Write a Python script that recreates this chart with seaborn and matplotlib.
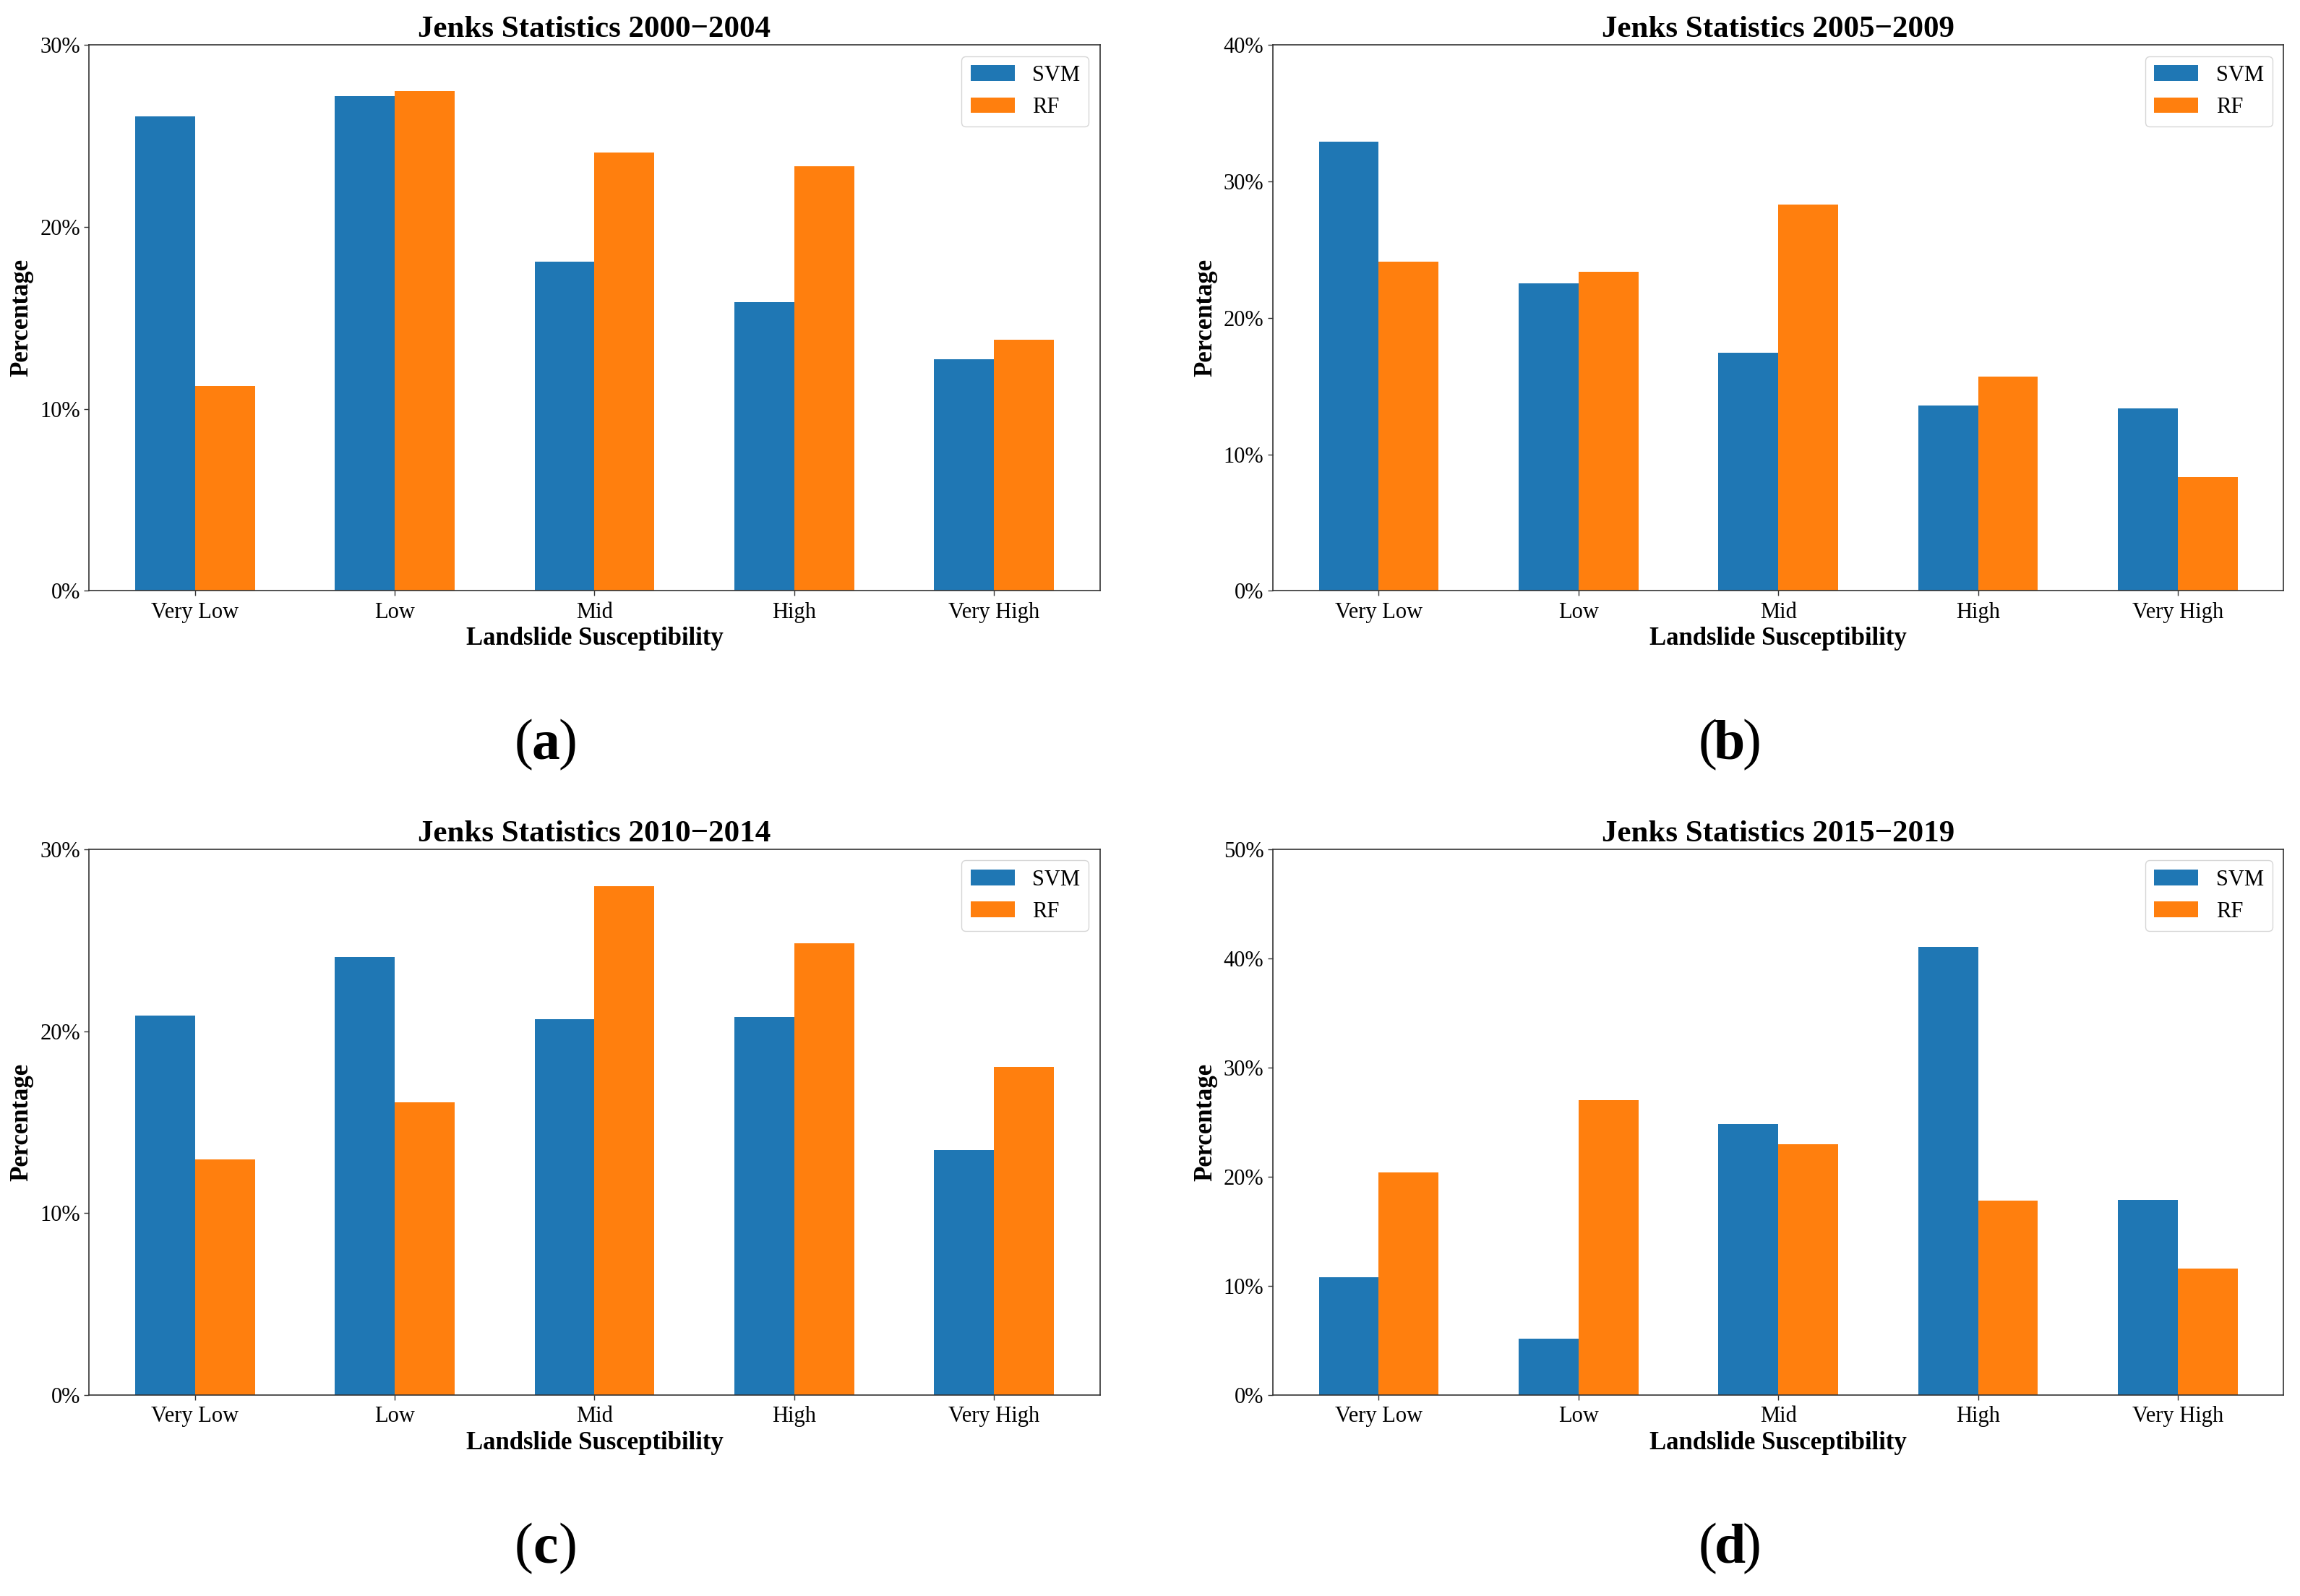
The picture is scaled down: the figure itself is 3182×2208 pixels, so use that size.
import matplotlib
matplotlib.use("Agg")
import matplotlib.pyplot as plt
from matplotlib.ticker import FuncFormatter
import seaborn as sns
import pandas as pd

# ---- data ----
levels = ["Very Low", "Low", "Mid", "High", "Very High"]
models = ["SVM", "RF"]

titles = ["Jenks Statistics 2000\u22122004", "Jenks Statistics 2005\u22122009",
          "Jenks Statistics 2010\u22122014", "Jenks Statistics 2015\u22122019"]
panel_letters = ["a", "b", "c", "d"]
y_max = [30, 40, 30, 50]

svm_2000 = [26.07, 27.21, 18.11, 15.88, 12.71]
rf_2000 = [11.26, 27.47, 24.09, 23.33, 13.80]
svm_2005 = [32.90, 22.55, 17.45, 13.59, 13.39]
rf_2005 = [24.14, 23.36, 28.33, 15.72, 8.35]
svm_2010 = [20.88, 24.07, 20.68, 20.79, 13.46]
rf_2010 = [12.96, 16.09, 27.99, 24.82, 18.02]
svm_2015 = [10.82, 5.18, 24.86, 41.09, 17.86]
rf_2015 = [20.43, 27.00, 22.95, 17.82, 11.57]

svm_all = [svm_2000, svm_2005, svm_2010, svm_2015]
rf_all = [rf_2000, rf_2005, rf_2010, rf_2015]

colors = ["#1f77b4", "#ff7f0e"]

sns.set_style("ticks")
plt.rcParams["font.family"] = ["Liberation Serif", "DejaVu Serif"]
plt.rcParams["text.color"] = "black"
plt.rcParams["axes.labelcolor"] = "black"
plt.rcParams["xtick.color"] = "black"
plt.rcParams["ytick.color"] = "black"

W, H = 3182, 2208
dpi = 100
fig = plt.figure(figsize=(W / dpi, H / dpi), dpi=dpi)

ax_w = 1398.4 / W
ax_h = 755.0 / H
lefts = [123.3 / W, 1761.0 / W, 123.3 / W, 1761.0 / W]
bottoms = [1 - 817.3 / H, 1 - 817.3 / H, 1 - 1930.0 / H, 1 - 1930.0 / H]
label_pos = [(755 / W, 1 - 1031 / H), (2393 / W, 1 - 1031 / H),
             (755 / W, 1 - 2143 / H), (2393 / W, 1 - 2143 / H)]

for i in range(4):
    ax = fig.add_axes([lefts[i], bottoms[i], ax_w, ax_h])
    df = pd.DataFrame({
        "level": levels * 2,
        "model": ["SVM"] * 5 + ["RF"] * 5,
        "value": svm_all[i] + rf_all[i],
    })
    sns.barplot(data=df, x="level", y="value", hue="model", order=levels,
                hue_order=models, palette=colors, saturation=1, width=0.6,
                errorbar=None, legend=False, ax=ax, linewidth=0)
    ax.set_xlim(-0.53, 4.53)
    ax.set_ylim(0, y_max[i])
    ax.set_yticks(list(range(0, y_max[i] + 1, 10)))
    ax.yaxis.set_major_formatter(FuncFormatter(lambda v, p: f"{int(round(v))}%"))
    ax.tick_params(axis="both", labelsize=22, length=5, width=1.0,
                   colors="#333333", labelcolor="black")
    ax.tick_params(axis="x", pad=6)
    ax.tick_params(axis="y", pad=4)
    for s in ax.spines.values():
        s.set_visible(True)
        s.set_color("#333333")
        s.set_linewidth(1.2)
    ax.set_xlabel("Landslide Susceptibility", fontsize=25, fontweight="bold", labelpad=4)
    ax.set_ylabel("Percentage", fontsize=25, fontweight="bold", labelpad=6)
    ax.set_title(titles[i], fontsize=31, fontweight="bold", pad=8)
    ax.legend(ax.containers, models, loc="upper right", fontsize=22,
              frameon=True, fancybox=True, framealpha=0.8, edgecolor="0.8")
    x0, y0 = label_pos[i]
    fig.text(x0 - 30 / W, y0, "(", fontsize=56, ha="center", va="center")
    fig.text(x0, y0, panel_letters[i], fontsize=56, fontweight="bold",
             ha="center", va="center")
    fig.text(x0 + 30 / W, y0, ")", fontsize=56, ha="center", va="center")

fig.savefig("out.png", dpi=dpi, facecolor="white")
